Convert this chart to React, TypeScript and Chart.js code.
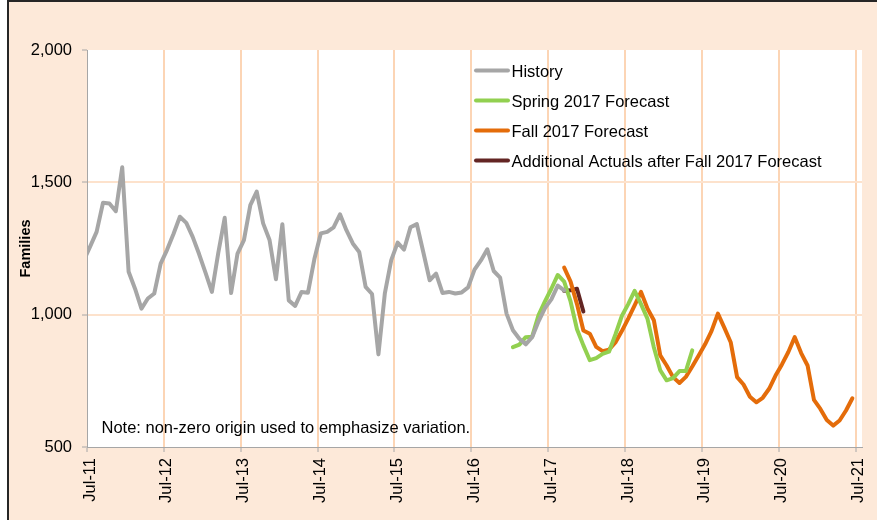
import React, { useEffect, useRef } from "react";
import { Chart, registerables } from "chart.js";

Chart.register(...registerables);

// Tick labels (one per July, months counted from Jul-11)
const yearTickLabels = ["Jul-11", "Jul-12", "Jul-13", "Jul-14", "Jul-15", "Jul-16", "Jul-17", "Jul-18", "Jul-19", "Jul-20", "Jul-21"];
const yTicks = [500, 1000, 1500, 2000];

// Monthly series; each starts at a month offset from Jul-11 (values plotted mid-month)
const historyStart = -1;
const historyValues = [
  1205, 1258, 1313, 1423, 1420, 1391, 1557, 1162, 1098, 1023, 1061, 1080,
  1193, 1245, 1305, 1370, 1347, 1294, 1229, 1159, 1086, 1234, 1366, 1082,
  1231, 1282, 1414, 1465, 1345, 1282, 1134, 1342, 1054, 1033, 1086, 1083,
  1210, 1307, 1313, 1330, 1379, 1319, 1269, 1237, 1105, 1078, 850, 1080,
  1206, 1272, 1246, 1330, 1342, 1237, 1130, 1155, 1082, 1086, 1080, 1084,
  1103, 1170, 1205, 1247, 1165, 1140, 1004, 941, 909, 888, 915, 975,
  1025, 1058, 1110, 1092,
];

const springStart = 66;
const springValues = [
  877, 887, 915, 917, 998, 1050, 1098, 1150, 1125, 1050, 945, 884,
  828, 836, 852, 860, 925, 995, 1040, 1090, 1040, 985, 877, 790,
  752, 760, 787, 787, 865,
];

const fallStart = 74;
const fallValues = [
  1178, 1125, 1040, 940, 928, 878, 862, 868, 895, 938, 985, 1035,
  1086, 1023, 979, 846, 808, 764, 742, 765, 804, 846, 888, 938,
  1004, 951, 896, 764, 736, 690, 669, 686, 720, 770, 812, 859,
  915, 855, 808, 678, 644, 602, 581, 600, 638, 684,
];

const actualsStart = 74;
const actualsValues = [1090, 1092, 1098, 1012];

const seriesLabels = ["History", "Spring 2017 Forecast", "Fall 2017 Forecast", "Additional Actuals after Fall 2017 Forecast"];
const seriesColors = ["#A6A6A6", "#92D050", "#E46C0A", "#632523"];

const noteText = "Note: non-zero origin used to emphasize variation.";

const FONT = "'Liberation Sans', Arial, sans-serif";

function toPoints(start: number, values: number[]) {
  return values.map((v, i) => ({ x: start + i + 0.5, y: v }));
}

const plotBgPlugin = {
  id: "plotBg",
  beforeDraw(chart: any) {
    const { ctx, chartArea } = chart;
    ctx.save();
    ctx.fillStyle = "#FFFFFF";
    ctx.fillRect(chartArea.left, chartArea.top, chartArea.right - chartArea.left, chartArea.bottom - chartArea.top);
    ctx.restore();
  },
};

const legendNotePlugin = {
  id: "legendNote",
  afterDraw(chart: any) {
    const { ctx } = chart;
    ctx.save();
    chart.data.datasets.forEach((ds: any, i: number) => {
      const y = 70.5 + i * 30;
      ctx.strokeStyle = ds.borderColor;
      ctx.lineWidth = 4;
      ctx.lineCap = "round";
      ctx.beginPath();
      ctx.moveTo(476, y);
      ctx.lineTo(508, y);
      ctx.stroke();
      ctx.fillStyle = "#000000";
      ctx.font = `16.5px ${FONT}`;
      ctx.textBaseline = "alphabetic";
      ctx.textAlign = "left";
      ctx.fillText(ds.label, 511.5, y + 6);
    });
    ctx.fillStyle = "#000000";
    ctx.font = `16.5px ${FONT}`;
    ctx.textAlign = "left";
    ctx.textBaseline = "alphabetic";
    ctx.fillText(noteText, 101.5, 433);
    ctx.restore();
  },
};

export default function App() {
  const canvasRef = useRef<HTMLCanvasElement | null>(null);

  useEffect(() => {
    document.body.style.margin = "0";
    const canvas = canvasRef.current;
    if (!canvas) return;
    const series = [
      toPoints(historyStart, historyValues),
      toPoints(springStart, springValues),
      toPoints(fallStart, fallValues),
      toPoints(actualsStart, actualsValues),
    ];
    const chart = new Chart(canvas, {
      type: "line",
      data: {
        datasets: series.map((data, i) => ({
          label: seriesLabels[i],
          data,
          borderColor: seriesColors[i],
          backgroundColor: seriesColors[i],
          borderWidth: 4,
          pointRadius: 0,
          pointHoverRadius: 0,
          tension: 0,
          fill: false,
          borderJoinStyle: "round" as const,
          borderCapStyle: "round" as const,
        })),
      },
      options: {
        animation: false,
        responsive: false,
        devicePixelRatio: 1,
        events: [],
        layout: { padding: { top: 50, right: 15, left: 0, bottom: 0 } },
        plugins: {
          legend: { display: false },
          tooltip: { enabled: false },
          title: { display: false },
        },
        scales: {
          x: {
            type: "linear",
            min: 0,
            max: 121,
            afterBuildTicks: (scale: any) => {
              scale.ticks = yearTickLabels.map((_, i) => ({ value: i * 12 }));
            },
            afterFit: (scale: any) => {
              scale.height = 73;
              scale.paddingLeft = 0;
              scale.paddingRight = 0;
            },
            ticks: {
              autoSkip: false,
              minRotation: 90,
              maxRotation: 90,
              padding: 6,
              labelOffset: 3,
              color: "#000000",
              font: { family: FONT, size: 16.5 },
              callback: (value: any) => yearTickLabels[Math.round(Number(value) / 12)] ?? "",
            },
            grid: {
              color: (ctx: any) => (ctx.tick && ctx.tick.value === 0 ? "rgba(0,0,0,0)" : "#FCD5B5"),
              lineWidth: 2,
              tickLength: 5,
              tickColor: "#A6A6A6",
              tickWidth: 1,
              drawTicks: true,
            },
            border: { display: true, color: "#A6A6A6", width: 1 },
          },
          y: {
            type: "linear",
            min: 500,
            max: 2000,
            afterBuildTicks: (scale: any) => {
              scale.ticks = yTicks.map((v) => ({ value: v }));
            },
            afterFit: (scale: any) => {
              scale.width = 87;
              scale.paddingTop = 0;
              scale.paddingBottom = 0;
            },
            ticks: {
              padding: 10,
              color: "#000000",
              font: { family: FONT, size: 16.5 },
              callback: (value: any) => Number(value).toLocaleString("en-US"),
            },
            grid: {
              color: (ctx: any) => (ctx.tick && (ctx.tick.value === 2000 || ctx.tick.value === 500) ? "rgba(0,0,0,0)" : "#FDE2CC"),
              lineWidth: 2,
              tickLength: 5,
              tickColor: "#A6A6A6",
              tickWidth: 1,
              drawTicks: true,
            },
            border: { display: true, color: "#A6A6A6", width: 1 },
            title: {
              display: true,
              text: "Families",
              color: "#000000",
              font: { family: FONT, size: 14.5, weight: "bold" },
              padding: { top: 17, bottom: 0 },
            },
          },
        },
      },
      plugins: [plotBgPlugin, legendNotePlugin],
    });
    return () => chart.destroy();
  }, []);

  return (
    <div style={{ position: "relative", width: 877, height: 520, background: "#FFFFFF", overflow: "hidden" }}>
      <div
        style={{
          position: "absolute",
          left: 7,
          top: 0,
          width: 870,
          height: 520,
          background: "#FDE9D9",
          borderLeft: "2px solid #262626",
          borderTop: "2px solid #262626",
          boxSizing: "border-box",
        }}
      />
      <canvas ref={canvasRef} width={877} height={520} style={{ position: "absolute", left: 0, top: 0, width: 877, height: 520 }} />
    </div>
  );
}
